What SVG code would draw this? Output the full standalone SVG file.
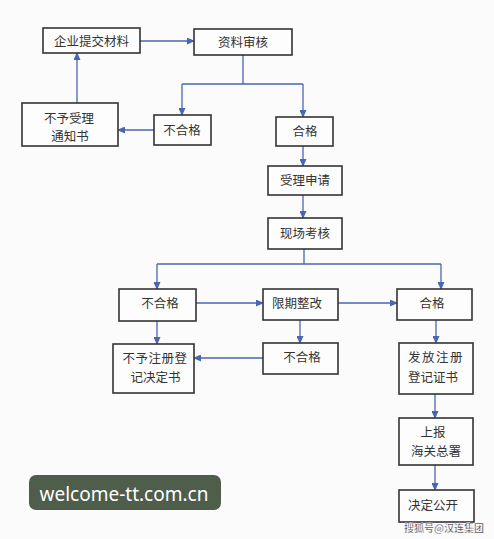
<svg xmlns="http://www.w3.org/2000/svg" width="494" height="539" viewBox="0 0 494 539">
<style>
.box{fill:#fdfdfd;stroke:#333;stroke-width:1.6}
.t{font-family:"Noto Sans CJK SC","Noto Sans",sans-serif;font-size:12.5px;fill:#333;text-anchor:middle}
.c{fill:none;stroke:#4a66b0;stroke-width:1.3}
.a{marker-end:url(#ah)}
</style>
<defs>
<marker id="ah" markerWidth="8" markerHeight="7" refX="7" refY="3.5" orient="auto" markerUnits="userSpaceOnUse">
<path d="M0,0 L8,3.5 L0,7 z" fill="#4a66b0"/>
</marker>
</defs>
<rect width="494" height="539" fill="#fcfbfc"/>
<g id="connectors">
<line class="c a" x1="140" y1="41" x2="194" y2="41"/>
<path class="c" d="M243,55 V84 M182,84 H303"/>
<line class="c a" x1="182" y1="84" x2="182" y2="115"/>
<line class="c a" x1="303" y1="84" x2="303" y2="117"/>
<line class="c a" x1="154" y1="130" x2="118" y2="130"/>
<line class="c a" x1="77" y1="103" x2="77" y2="53"/>
<line class="c a" x1="303" y1="146" x2="303" y2="166"/>
<line class="c a" x1="303" y1="195" x2="303" y2="218"/>
<path class="c" d="M304,249 V264 M157,264 H441"/>
<line class="c a" x1="157" y1="264" x2="157" y2="289"/>
<line class="c a" x1="441" y1="264" x2="441" y2="289"/>
<line class="c a" x1="196" y1="303" x2="263" y2="303"/>
<line class="c a" x1="338" y1="303" x2="397" y2="303"/>
<line class="c a" x1="157" y1="321" x2="157" y2="344"/>
<line class="c a" x1="300" y1="320" x2="300" y2="343"/>
<line class="c a" x1="263" y1="358" x2="194" y2="358"/>
<line class="c a" x1="436" y1="320" x2="436" y2="343"/>
<line class="c a" x1="435" y1="394" x2="435" y2="418"/>
<line class="c a" x1="435" y1="465" x2="435" y2="490"/>
</g>
<g id="n1"><rect class="box" x="43" y="28" width="97" height="25"/><text class="t" x="91.5" y="45.5">企业提交材料</text></g>
<g id="n2"><rect class="box" x="194" y="29" width="98" height="26"/><text class="t" x="243" y="46.5">资料审核</text></g>
<g id="n3"><rect class="box" x="154" y="115" width="57" height="30"/><text class="t" x="182" y="134.5">不合格</text></g>
<g id="n4"><rect class="box" x="276" y="117" width="57" height="29"/><text class="t" x="305" y="135.5">合格</text></g>
<g id="n5"><rect class="box" x="22" y="103" width="96" height="43"/><text class="t" x="69" y="122.5">不予受理</text><text class="t" x="70" y="140.5">通知书</text></g>
<g id="n6"><rect class="box" x="268" y="166" width="74" height="29"/><text class="t" x="305" y="184.5">受理申请</text></g>
<g id="n7"><rect class="box" x="268" y="218" width="74" height="31"/><text class="t" x="305" y="237.5">现场考核</text></g>
<g id="n8"><rect class="box" x="119" y="289" width="77" height="32"/><text class="t" x="160" y="307.5">不合格</text></g>
<g id="n9"><rect class="box" x="263" y="289" width="75" height="31"/><text class="t" x="297" y="307.5">限期整改</text></g>
<g id="n10"><rect class="box" x="397" y="289" width="75" height="31"/><text class="t" x="432" y="307.5">合格</text></g>
<g id="n11"><rect class="box" x="113" y="344" width="81" height="49"/><text class="t" x="155" y="362.5" letter-spacing="0.5">不予注册登</text><text class="t" x="155.5" y="381.5">记决定书</text></g>
<g id="n12"><rect class="box" x="263" y="343" width="75" height="31"/><text class="t" x="302" y="361.5">不合格</text></g>
<g id="n13"><rect class="box" x="399" y="343" width="74" height="51"/><text class="t" x="436" y="361.5" letter-spacing="1.5">发放注册</text><text class="t" x="433" y="381.5">登记证书</text></g>
<g id="n14"><rect class="box" x="399" y="418" width="74" height="47"/><text class="t" x="433" y="436.5">上报</text><text class="t" x="436" y="455.5">海关总署</text></g>
<g id="n15"><rect class="box" x="399" y="490" width="75" height="32"/><text class="t" x="433" y="509.5">决定公开</text></g>
<g id="wm">
<rect x="29" y="475" width="192" height="35" rx="7" fill="#4f5d4b"/>
<text x="124" y="501" font-family="Noto Sans, sans-serif" font-size="19" fill="#fff" text-anchor="middle">welcome-tt.com.cn</text>
<text x="444" y="532" font-family="Noto Sans CJK SC, sans-serif" font-size="10" font-weight="bold" fill="#444" stroke="#fff" stroke-width="0.4" text-anchor="middle">搜狐号@汉连集团</text>
</g>
</svg>
